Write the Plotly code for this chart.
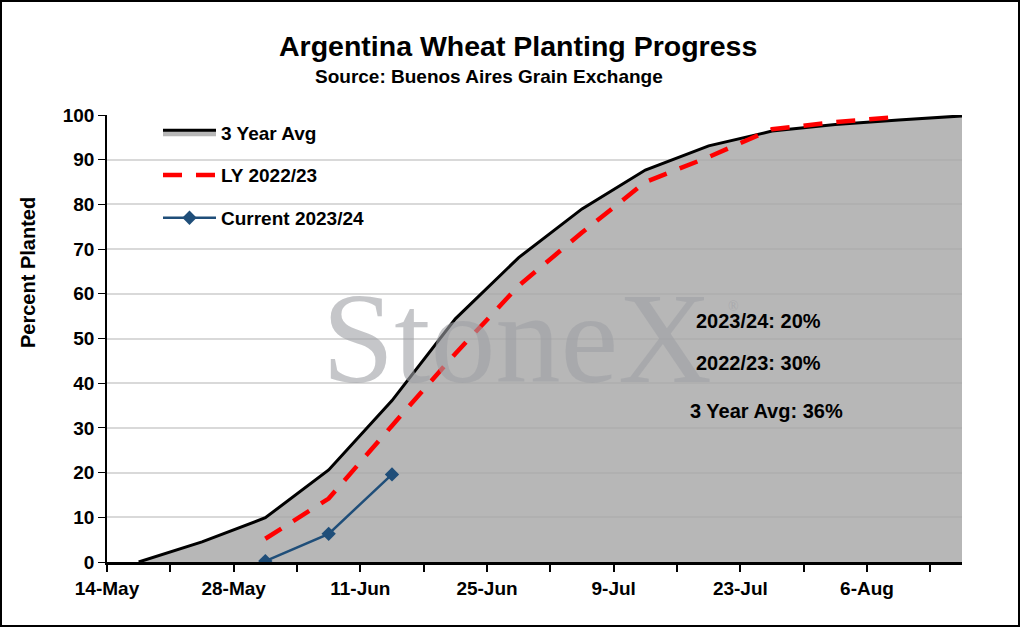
import pandas as pd
import plotly.graph_objects as go

# weekly report dates (plotted at mid-day, like Excel's between-tick date slots)
dates = pd.date_range("2023-05-17 12:00", periods=14, freq="7D")

avg_3yr = [0, 4.5, 9.9, 20.6, 36.1, 54.4, 68.1, 79.0, 87.7, 93.1, 96.4, 97.9, 98.9, 99.8]
ly_2223 = [None, None, 5.2, 14.2, 30.5, 46.6, 61.8, 73.7, 85.0, 90.6, 96.8, 98.4, 99.6, None]
cur_2324 = [None, None, 0.2, 6.3, 19.6]

tick_dates = pd.date_range("2023-05-14", "2023-08-13", freq="7D")
tick_text = [d.strftime("%-d-%b") if i % 2 == 0 else "" for i, d in enumerate(tick_dates)]

notes = ["2023/24: 20%", "2022/23: 30%", "3 Year Avg: 36%"]

W, H = 1020, 627
L, R, T, B = 107, 58, 115, 65
PW, PH = W - L - R, H - T - B


def px(x):
    return (x - L) / PW


def py(y):
    return (H - B - y) / PH


FONT = "Liberation Sans, Arial, sans-serif"

fig = go.Figure()

fig.add_trace(go.Scatter(
    x=dates, y=avg_3yr, name="3 Year Avg", mode="lines",
    line=dict(color="black", width=3), fill="tozeroy",
    fillcolor="rgba(167,167,167,0.82)", legendgroup="a",
))
fig.add_trace(go.Scatter(
    x=dates, y=ly_2223, name="LY 2022/23", mode="lines",
    line=dict(color="#ff0000", width=4.5, dash="19px,14px"), legendgroup="b",
))
fig.add_trace(go.Scatter(
    x=dates[:len(cur_2324)], y=cur_2324, name="Current 2023/24", mode="lines+markers",
    line=dict(color="#1f4e79", width=2.5),
    marker=dict(symbol="diamond", size=11, color="#1f4e79"), legendgroup="c",
))

fig.update_layout(
    width=W, height=H,
    margin=dict(l=L, r=R, t=T, b=B),
    paper_bgcolor="white", plot_bgcolor="white",
    font=dict(family=FONT, size=17, color="black"),
    showlegend=True,
    legend=dict(
        x=px(158), y=py(113.5), xanchor="left", yanchor="top",
        bgcolor="rgba(0,0,0,0)", itemwidth=53, tracegroupgap=15,
        traceorder="grouped",
        font=dict(family=FONT, size=19, color="black", weight="bold"),
    ),
    xaxis=dict(
        range=["2023-05-14", "2023-08-16 12:00"],
        tickvals=tick_dates, ticktext=tick_text,
        ticks="outside", ticklen=7, tickcolor="black", tickwidth=1.5,
        showgrid=False, showline=True, linecolor="black", linewidth=3,
        tickfont=dict(family=FONT, size=19, color="black", weight="bold"),
        zeroline=False,
    ),
    yaxis=dict(
        range=[0, 100], dtick=10,
        ticks="outside", ticklen=7, tickcolor="black", tickwidth=1.2,
        showgrid=True, gridcolor="#d9d9d9", gridwidth=2,
        showline=True, linecolor="black", linewidth=1.5,
        tickfont=dict(family=FONT, size=19, color="black", weight="bold"),
        zeroline=False,
    ),
)

# watermark
fig.add_annotation(
    text="StoneX", x=px(517), y=py(338), xref="paper", yref="paper",
    showarrow=False, xanchor="center", yanchor="middle",
    font=dict(family="Liberation Serif, Times New Roman, serif", size=130,
              color="rgba(158,160,165,0.6)"),
)
fig.add_annotation(
    text="®", x=px(733), y=py(306), xref="paper", yref="paper",
    showarrow=False, xanchor="center", yanchor="middle",
    font=dict(family="Liberation Serif, serif", size=14,
              color="rgba(158,160,165,0.6)"),
)

# titles
fig.add_annotation(
    text="Argentina Wheat Planting Progress", x=px(518), y=py(46),
    xref="paper", yref="paper", showarrow=False, xanchor="center", yanchor="middle",
    font=dict(family=FONT, size=28.5, color="black", weight="bold"),
)
fig.add_annotation(
    text="Source: Buenos Aires Grain Exchange", x=px(489), y=py(76),
    xref="paper", yref="paper", showarrow=False, xanchor="center", yanchor="middle",
    font=dict(family=FONT, size=19, color="black", weight="bold"),
)
fig.add_annotation(
    text="Percent Planted", x=px(28), y=py(273), textangle=-90,
    xref="paper", yref="paper", showarrow=False, xanchor="center", yanchor="middle",
    font=dict(family=FONT, size=20, color="black", weight="bold"),
)

# status notes
for txt, xx, yy in zip(notes, [758, 758, 766], [321, 363, 411]):
    fig.add_annotation(
        text=txt, x=px(xx), y=py(yy), xref="paper", yref="paper",
        showarrow=False, xanchor="center", yanchor="middle",
        font=dict(family=FONT, size=20, color="black", weight="bold"),
    )

# outer frame
fig.add_shape(
    type="rect", xref="paper", yref="paper",
    x0=px(1), x1=px(W - 1), y0=py(H - 1), y1=py(1),
    line=dict(color="black", width=2),
)

fig.write_html("out.html", config={"displayModeBar": False},
               post_script="document.body.style.margin='0';")
